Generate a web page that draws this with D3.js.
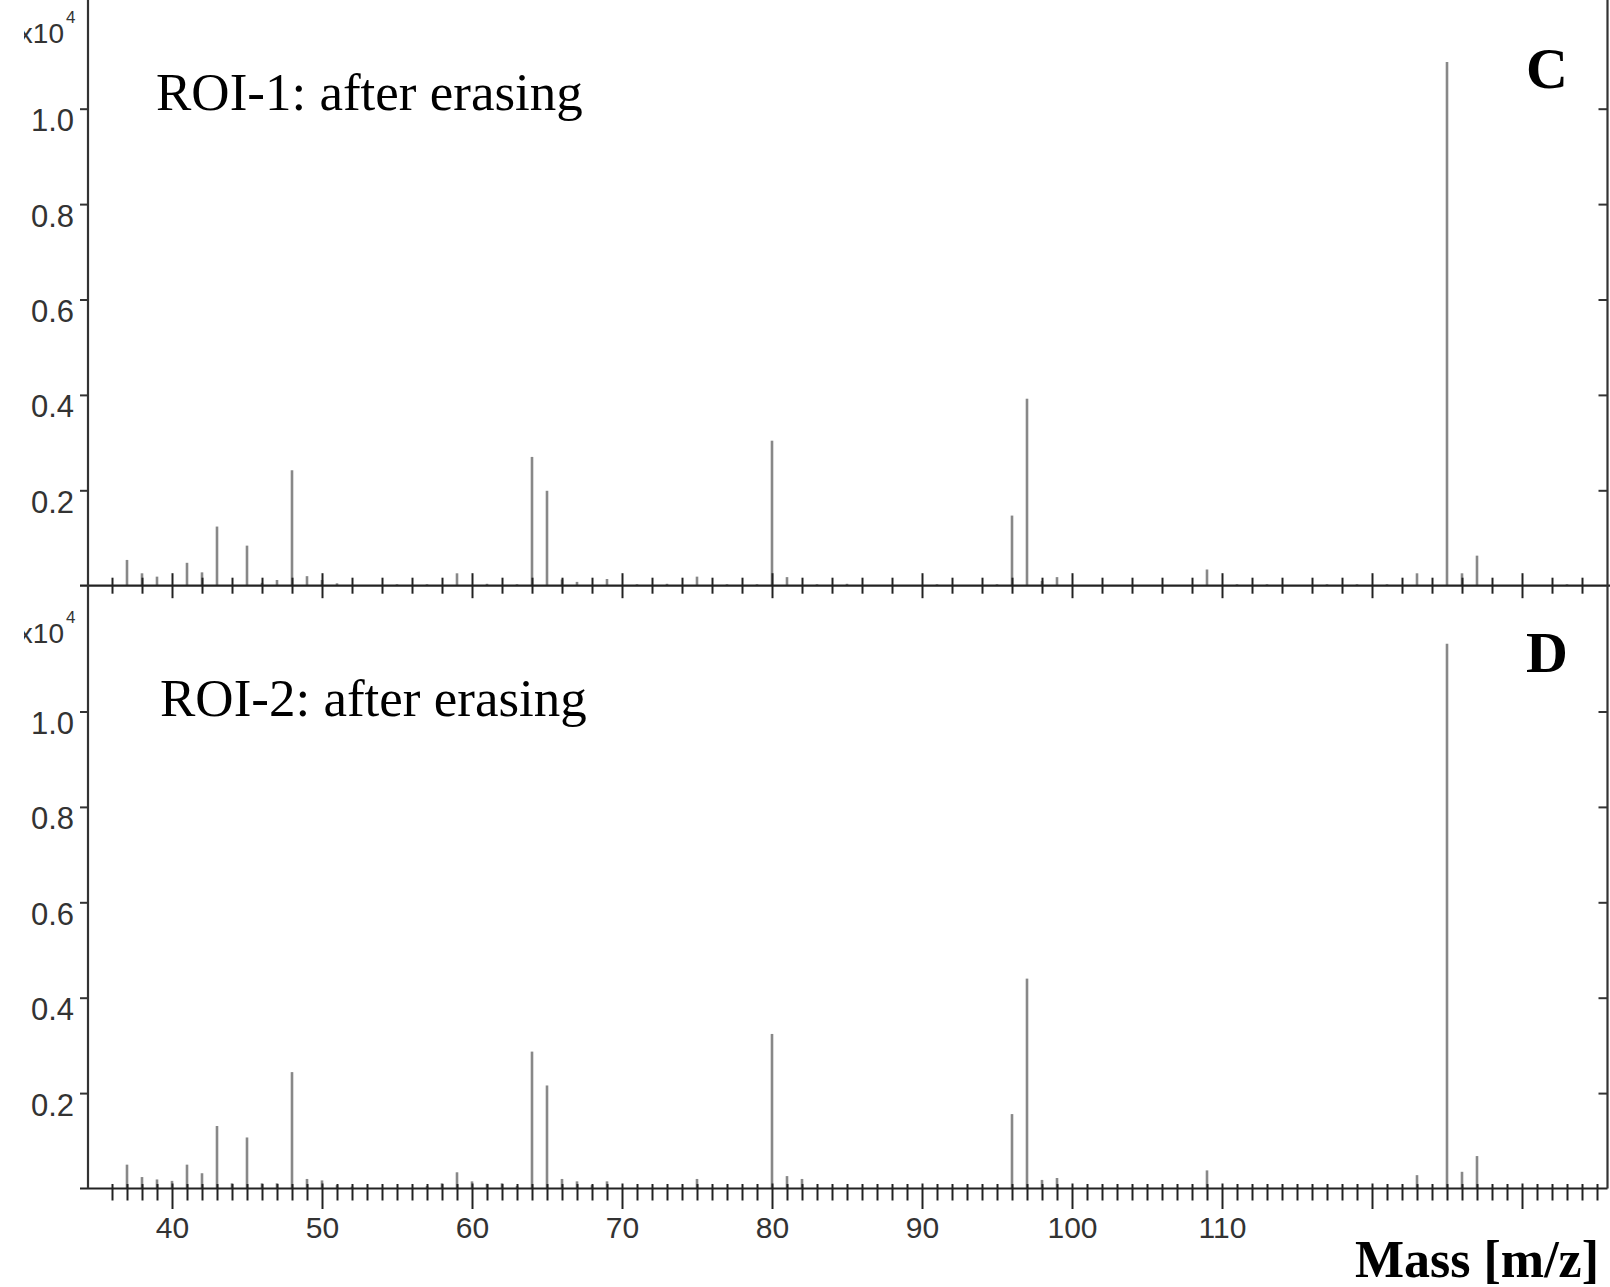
<!DOCTYPE html>
<html>
<head>
<meta charset="utf-8">
<script src="https://cdn.jsdelivr.net/npm/d3@7"></script>
<style>
  body { margin: 0; background: #fff; }
  svg { display: block; }
</style>
</head>
<body>
<svg id="chart" width="1610" height="1287"></svg>
<script>
// ROI-1 (panel C) peaks: m/z and counts
let masses_c = [37, 38, 39, 41, 42, 43, 45, 46, 47, 48, 49, 50, 51, 55, 57, 59, 61, 63, 64, 65, 66, 67, 69,
    71, 73, 75, 77, 79, 80, 81, 83, 85, 91, 95, 96, 97, 98, 99, 109, 111, 113, 117, 119, 121, 123, 125, 126, 127, 133];
let counts_c = [540, 260, 190, 480, 280, 1240, 840, 60, 120, 2420, 200, 120, 50, 30, 30, 260, 40, 30, 2700, 1990, 130, 80, 140,
    30, 40, 190, 30, 30, 3040, 180, 30, 40, 30, 30, 1470, 3920, 100, 180, 340, 30, 30, 30, 30, 30, 260, 10980, 260, 630, 30];

// ROI-2 (panel D) peaks
let masses_d = [37, 38, 39, 40, 41, 42, 43, 44, 45, 46, 47, 48, 49, 50, 51, 52, 57, 58, 59, 60, 61, 62, 63, 64, 65, 66, 67, 68, 69,
    75, 80, 81, 82, 96, 97, 98, 99, 109, 123, 125, 126, 127];
let counts_d = [500, 240, 190, 160, 500, 320, 1310, 110, 1070, 110, 110, 2440, 200, 170, 70, 40, 50, 110, 340, 150, 100, 110, 50, 2870, 2160, 200, 150, 70, 150,
    200, 3240, 260, 200, 1560, 4400, 180, 220, 380, 280, 11420, 350, 680];

let y_ticks = [2000, 4000, 6000, 8000, 10000];
let x_labels = [40, 50, 60, 70, 80, 90, 100, 110];

let svg = d3.select('#chart');
svg.append('rect').attr('width', 1610).attr('height', 1287).attr('fill', '#fff');

let x = d3.scaleLinear().domain([40, 130]).range([172, 1522]);
let left_x = 88;
let right_x = 1607.5;

// the "x" of the exponent label is cut off on the left
svg.append('clipPath').attr('id', 'expclip')
    .append('rect').attr('x', 24).attr('y', 0).attr('width', 200).attr('height', 1287);

function draw_panel(opts) {
    let y = d3.scaleLinear().domain([0, 10000]).range([opts.base, opts.base - 477]);
    let g = svg.append('g');

    // peaks
    g.selectAll('.peak')
        .data(d3.zip(opts.masses, opts.counts))
        .join('line')
        .attr('class', 'peak')
        .attr('x1', d => x(d[0]))
        .attr('x2', d => x(d[0]))
        .attr('y1', y(0))
        .attr('y2', d => y(d[1]))
        .attr('stroke', '#888')
        .attr('stroke-width', 2.6);

    // left y axis
    let yax = g.append('g')
        .attr('transform', 'translate(' + left_x + ',0)')
        .call(d3.axisLeft(y).tickValues(y_ticks).tickSize(8).tickSizeOuter(0).tickPadding(6)
            .tickFormat(d => (d / 10000).toFixed(1)));
    yax.select('.domain').remove();
    yax.selectAll('line').attr('stroke', '#333').attr('stroke-width', 2);
    yax.selectAll('text')
        .attr('dy', 22)
        .attr('fill', '#333')
        .style('font-family', 'Liberation Sans, Arial, sans-serif')
        .style('font-size', '31px');

    // right axis, ticks inward
    let rax = g.append('g')
        .attr('transform', 'translate(' + right_x + ',0)')
        .call(d3.axisLeft(y).tickValues(y_ticks).tickSize(9).tickSizeOuter(0).tickFormat(''));
    rax.select('.domain').remove();
    rax.selectAll('line').attr('stroke', '#333').attr('stroke-width', 2);

    // x axis
    let xax = g.append('g')
        .attr('transform', 'translate(0,' + opts.base + ')')
        .call(d3.axisBottom(x).tickValues(opts.x_ticks).tickSizeOuter(0).tickPadding(0)
            .tickFormat(d => opts.show_labels && x_labels.includes(d) ? d : ''));
    xax.select('.domain').remove();
    xax.selectAll('.tick line')
        .attr('stroke', '#222').attr('stroke-width', 2)
        .attr('y1', d => d % 10 == 0 ? opts.major[0] : opts.minor[0])
        .attr('y2', d => d % 10 == 0 ? opts.major[1] : opts.minor[1]);
    xax.selectAll('.tick text')
        .attr('y', 49)
        .attr('dy', 0)
        .attr('fill', '#333')
        .style('font-family', 'Liberation Sans, Arial, sans-serif')
        .style('font-size', '30px');

    g.append('line')
        .attr('x1', 80).attr('x2', opts.line_end)
        .attr('y1', opts.base).attr('y2', opts.base)
        .attr('stroke', '#222').attr('stroke-width', 2.2);

    // exponent label
    let ex = g.append('g').attr('clip-path', 'url(#expclip)');
    ex.append('text')
        .attr('x', 64).attr('y', opts.exp_y)
        .attr('text-anchor', 'end')
        .attr('fill', '#333')
        .style('font-family', 'Liberation Sans, Arial, sans-serif')
        .style('font-size', '28px')
        .text('x10');
    ex.append('text')
        .attr('x', 66).attr('y', opts.exp_y - 20)
        .attr('fill', '#333')
        .style('font-family', 'Liberation Sans, Arial, sans-serif')
        .style('font-size', '17px')
        .text('4');

    g.append('text')
        .attr('x', opts.title_x).attr('y', opts.title_y)
        .style('font-family', 'Liberation Serif, Times New Roman, serif')
        .style('font-size', '53px')
        .text(opts.title);

    g.append('text')
        .attr('x', 1547).attr('y', opts.letter_y)
        .attr('text-anchor', 'middle')
        .style('font-family', 'Liberation Serif, Times New Roman, serif')
        .style('font-weight', 'bold')
        .style('font-size', '58px')
        .text(opts.letter);
}

draw_panel({
    masses: masses_c, counts: counts_c, base: 585.7,
    x_ticks: d3.range(36, 135, 2), show_labels: false,
    minor: [-8, 8], major: [-12.5, 12.5], line_end: 1610,
    exp_y: 43, title: 'ROI-1: after erasing', title_x: 156, title_y: 110,
    letter: 'C', letter_y: 88
});

draw_panel({
    masses: masses_d, counts: counts_d, base: 1188.5,
    x_ticks: d3.range(36, 136, 1), show_labels: true,
    minor: [-4.5, 12], major: [-5, 20.5], line_end: 1607.5,
    exp_y: 643, title: 'ROI-2: after erasing', title_x: 160, title_y: 716,
    letter: 'D', letter_y: 672
});

// frame lines
svg.append('line')
    .attr('x1', left_x).attr('x2', left_x).attr('y1', 0).attr('y2', 1188.5)
    .attr('stroke', '#333').attr('stroke-width', 2.2);
svg.append('line')
    .attr('x1', right_x).attr('x2', right_x).attr('y1', 0).attr('y2', 1188.5)
    .attr('stroke', '#333').attr('stroke-width', 2.2);

svg.append('text')
    .attr('x', 1599).attr('y', 1277)
    .attr('text-anchor', 'end')
    .style('font-family', 'Liberation Serif, Times New Roman, serif')
    .style('font-weight', 'bold')
    .style('font-size', '52px')
    .text('Mass [m/z]');
</script>
</body>
</html>
